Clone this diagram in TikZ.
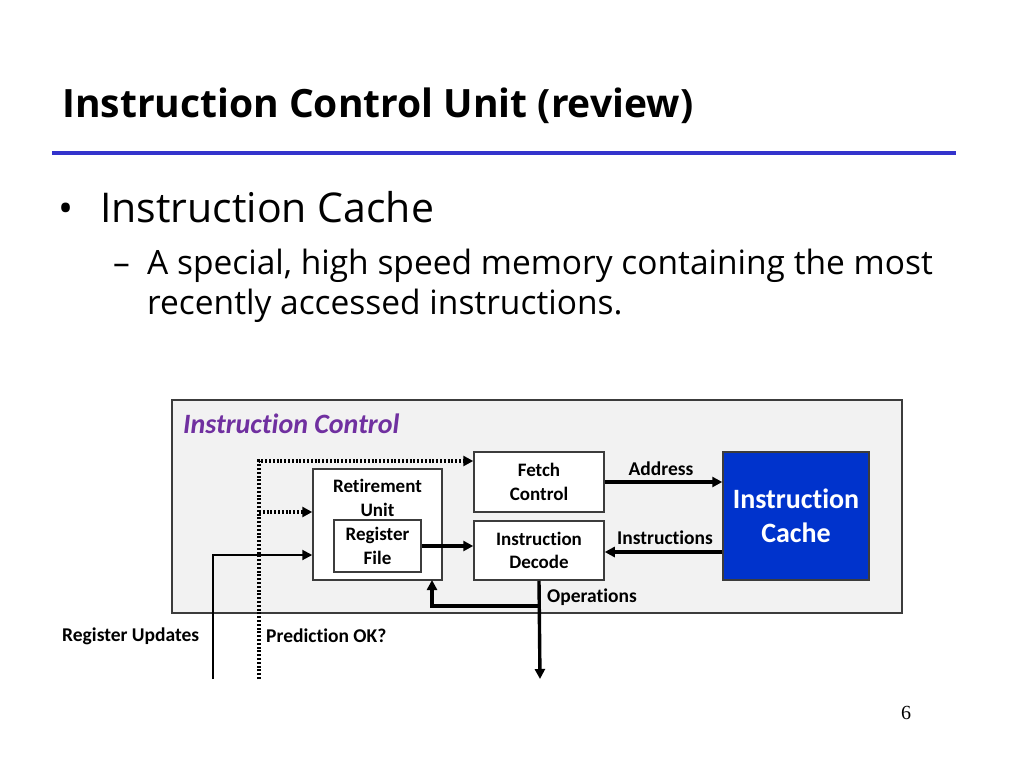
\documentclass[tikz,border=0pt]{standalone}
\usepackage{fontspec}
\setmainfont{Open Sans}
\newfontfamily\diagfont[Ligatures=NoCommon]{Carlito}
\newfontfamily\numfont{Liberation Serif}
\usetikzlibrary{arrows.meta,calc}
\definecolor{titleblue}{RGB}{51,51,204}
\definecolor{cacheblue}{RGB}{0,51,204}
\definecolor{ctrlpurple}{RGB}{112,48,160}
\definecolor{boxgray}{RGB}{242,242,242}
\definecolor{edgegray}{RGB}{60,60,60}
\begin{document}
\begin{tikzpicture}[x=1pt,y=-1pt,
  unitbox/.style={draw=edgegray,line width=1.5pt,fill=white,inner sep=0pt,align=center,
    font=\diagfont\bfseries\fontsize{19}{23.5}\selectfont},
  lbl/.style={font=\diagfont\bfseries\fontsize{19.5}{23}\selectfont,inner sep=0pt},
  flow/.style={line width=3.4pt,-{Triangle[length=10pt,width=10pt]}},
  thinflow/.style={line width=2pt,-{Triangle[length=10pt,width=10pt]}},
  dotflow/.style={line width=3.2pt,dash pattern=on 2pt off 1.8pt,-{Triangle[length=10pt,width=10pt]}}]
\useasboundingbox (0,0) rectangle (1024,768);
\fill[white] (0,0) rectangle (1024,768);
% title
\node[anchor=base west,inner sep=0pt,font=\bfseries\fontsize{39}{48}\selectfont] (title) at (62,117) {Instruction Control Unit (review)};
\draw[titleblue,line width=4pt] (52,153) -- (956,153);
% bullets
\node[anchor=base west,inner sep=0pt,font=\fontsize{40}{46}\selectfont] (b1) at (58,222) {•};
\node[anchor=base west,inner sep=0pt,font=\fontsize{41}{46}\selectfont] (t1) at (100,222) {Instruction Cache};
\node[anchor=base west,inner sep=0pt,font=\fontsize{33.5}{40}\selectfont] (d1) at (113,274) {–};
\node[anchor=base west,inner sep=0pt,font=\fontsize{33.5}{40}\selectfont] (t2) at (147,274) {A special, high speed memory containing the most};
\node[anchor=base west,inner sep=0pt,font=\fontsize{33.5}{40}\selectfont] (t3) at (147,314) {recently accessed instructions.};
% outer box
\draw[edgegray,fill=boxgray,line width=2pt] (172,400) rectangle (902,613);
\node[anchor=west,inner sep=0pt,text=ctrlpurple,font=\diagfont\bfseries\itshape\fontsize{28}{30}\selectfont] (ictl) at (183,424) {Instruction Control};
% units
\node[unitbox,minimum width=130pt,minimum height=60pt] (fetch) at (539,482) {Fetch\\Control};
\node[unitbox,minimum width=130pt,minimum height=59pt] (decode) at (539,550.5) {Instruction\\Decode};
\node[unitbox,minimum width=129pt,minimum height=111pt] (retire) at (377.5,524.5) {};
\node[lbl,align=center,font=\diagfont\bfseries\fontsize{19}{23.5}\selectfont] (retiretxt) at (377.5,498) {Retirement\\Unit};
\node[unitbox,minimum width=87pt,minimum height=52pt] (regfile) at (377.5,546) {Register\\File};
\node[draw=edgegray,line width=1.5pt,fill=cacheblue,text=white,minimum width=146pt,minimum height=128pt,align=center,
  font=\diagfont\bfseries\fontsize{28}{34}\selectfont] (cache) at (796,516) {Instruction\\Cache};
% labels
\node[lbl] (addr) at (661,469) {Address};
\node[lbl] (instr) at (665,538) {Instructions};
\node[lbl,anchor=west] (ops) at (547,597) {Operations};
\node[lbl,anchor=west] (regup) at (62,636) {Register Updates};
\node[lbl,anchor=west] (predok) at (266,636) {Prediction OK?};
\node[anchor=base,inner sep=0pt,font=\numfont\fontsize{20}{22}\selectfont] (pnum) at (906,719) {6};
% coordinates
\coordinate (opsend) at (540,679);
\coordinate (branch) at (540,606);
\coordinate (retin) at (432,580);
\coordinate (ruend) at (213,679);
\coordinate (poend) at (259,679);
\coordinate (pomid) at (259,512);
% connectors
\draw[flow] (fetch.east) -- (cache.west |- fetch.east);
\draw[flow] (cache.west |- 0,552) -- (decode.east |- 0,552);
\draw[flow] (regfile.east) -- (regfile.east -| decode.west);
\draw[flow] (decode.south) -- (opsend);
\draw[flow] (branch) -| (retin);
\draw[thinflow] (ruend) |- (retire.west |- 0,555);
\draw[dotflow] (poend) |- (fetch.west |- 0,461);
\draw[dotflow] (pomid) -- (retire.west |- pomid);
\end{tikzpicture}
\end{document}
